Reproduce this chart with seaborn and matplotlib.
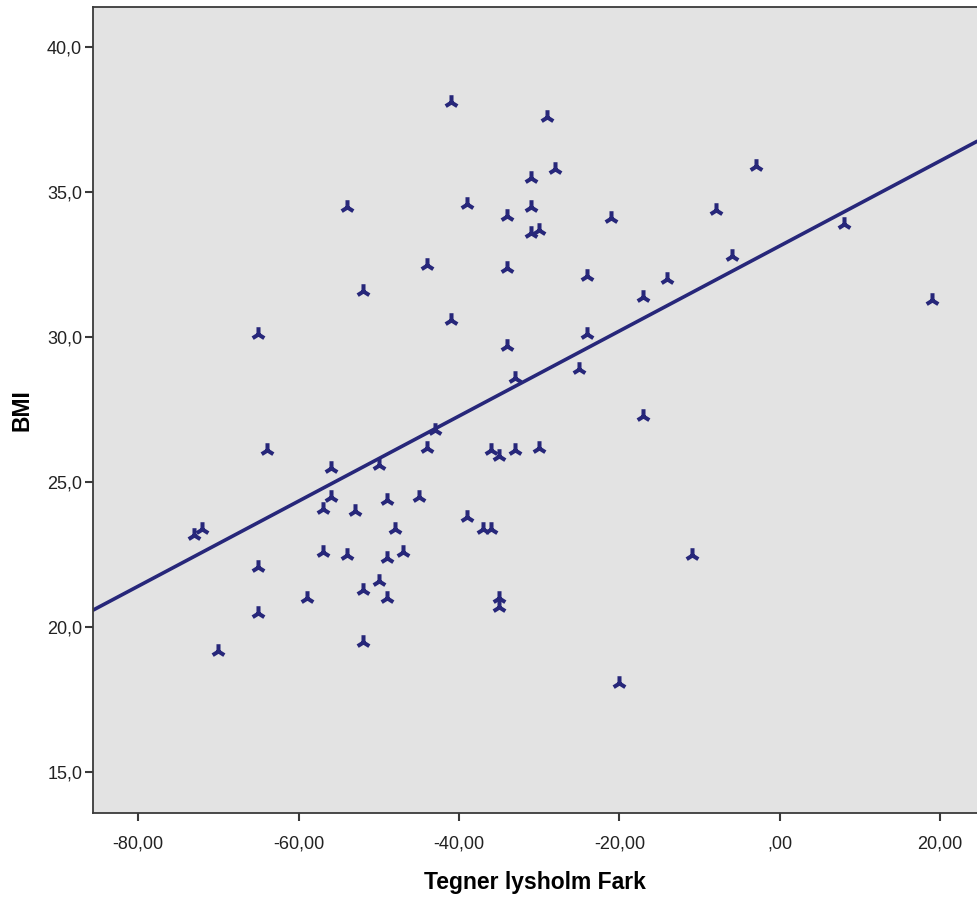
import pandas as pd
import matplotlib.pyplot as plt
import seaborn as sns
from matplotlib.ticker import FuncFormatter, MultipleLocator

# Lysholm difference (x) and BMI (y)
lysholm_fark = [-41, -29, -28, -31, -3, -54, -39, -31, -34, -31,
                -30, -21, -8, 8, -44, -34, -24, -14, -6, -52,
                -17, 19, -41, -65, -24, -34, -33, -25, -17, -43,
                -64, -44, -36, -35, -33, -30, -56, -50, -56, -45,
                -49, -57, -53, -73, -72, -39, -48, -37, -36, -57,
                -54, -47, -49, -11, -65, -50, -52, -59, -49, -35,
                -35, -65, -52, -70, -20]
bmi = [38.1, 37.6, 35.8, 35.5, 35.9, 34.5, 34.6, 34.5, 34.2, 33.6,
       33.7, 34.1, 34.4, 33.9, 32.5, 32.4, 32.1, 32.0, 32.8, 31.6,
       31.4, 31.3, 30.6, 30.1, 30.1, 29.7, 28.6, 28.9, 27.3, 26.8,
       26.1, 26.2, 26.1, 25.9, 26.1, 26.2, 25.5, 25.6, 24.5, 24.5,
       24.4, 24.1, 24.0, 23.2, 23.4, 23.8, 23.4, 23.4, 23.4, 22.6,
       22.5, 22.6, 22.4, 22.5, 22.1, 21.6, 21.3, 21.0, 21.0, 21.0,
       20.7, 20.5, 19.5, 19.2, 18.1]

df = pd.DataFrame({'Tegner lysholm Fark': lysholm_fark, 'BMI': bmi})

navy = '#27277a'
sns.set_style('white', {'axes.facecolor': '#e3e3e3'})
plt.rcParams['font.family'] = ['Liberation Sans', 'DejaVu Sans']

fig = plt.figure(figsize=(9.77, 9.02), dpi=100)
ax = fig.add_axes([0.0955, 0.0983, 0.9045, 0.8939])

# limits first so the fit line (truncate=False) spans the whole axis
xlim = (-85.6, 24.6)
ylim = (13.59, 41.39)
ax.set_xlim(*xlim)
ax.set_ylim(*ylim)

sns.regplot(data=df, x='Tegner lysholm Fark', y='BMI', ax=ax, ci=None, truncate=False,
            marker='2', color=navy,
            scatter_kws={'s': 110, 'linewidths': 2.9, 'alpha': 1},
            line_kws={'linewidth': 2.6})

ax.set_xlim(*xlim)
ax.set_ylim(*ylim)
ax.xaxis.set_major_locator(MultipleLocator(20))
ax.yaxis.set_major_locator(MultipleLocator(5))


def x_fmt(v, pos):
    s = f'{v:.2f}'.replace('.', ',')
    return ',00' if s in ('0,00', '-0,00') else s


def y_fmt(v, pos):
    return f'{v:.1f}'.replace('.', ',')


ax.xaxis.set_major_formatter(FuncFormatter(x_fmt))
ax.yaxis.set_major_formatter(FuncFormatter(y_fmt))

for side in ['left', 'bottom', 'top']:
    ax.spines[side].set_color('#3a3a3a')
    ax.spines[side].set_linewidth(1.3)
ax.spines['right'].set_visible(False)

ax.tick_params(axis='both', which='major', direction='out', length=6, width=1.5,
               color='#3a3a3a', labelsize=13, labelcolor='#222222',
               bottom=True, left=True)
ax.tick_params(axis='x', pad=10)
ax.tick_params(axis='y', pad=2)

ax.set_xlabel('Tegner lysholm Fark', fontsize=16.5, fontweight='bold', labelpad=13,
              color='black')
ax.set_ylabel('BMI', fontsize=16.5, fontweight='bold', labelpad=10, color='black')

fig.savefig('out.png', dpi=100)
